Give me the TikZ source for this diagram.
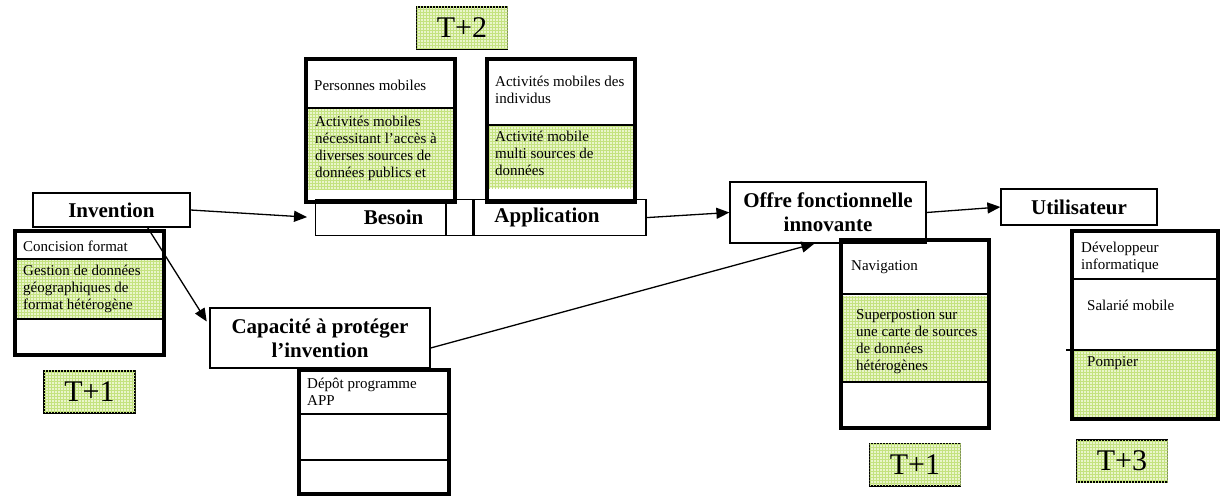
\documentclass[tikz,border=0pt]{standalone}
\usepackage{fontspec}
\setmainfont{Liberation Serif}
\usetikzlibrary{arrows.meta,positioning,calc,patterns}
\definecolor{grnbg}{RGB}{234,245,204}
\definecolor{grnln}{RGB}{196,226,128}
\newcommand\hdrfont{\fontsize{21}{24}\selectfont\bfseries}
\newcommand\cellfont{\fontsize{15}{17}\selectfont}
\newcommand\tagfont{\fontsize{30}{32}\selectfont}
\tikzset{
  hdr/.style={draw,line width=1.2pt,fill=white,font=\hdrfont,align=center,inner sep=0pt},
  colframe/.style={draw,line width=4pt,inner sep=0pt,anchor=north west},
  celltext/.style={anchor=north west,inner sep=0pt,font=\cellfont,align=left},
  grn/.style={fill=grnbg,postaction={pattern=grid,pattern color=grnln}},
  rowline/.style={line width=1.5pt},
  tagbox/.style={draw,line width=1.5pt,grn,font=\tagfont,inner sep=0pt,minimum height=42,minimum width=91}
}
\begin{document}
\begin{tikzpicture}[x=1pt,y=-1pt,>={Triangle[length=13pt,width=11pt]}]
\useasboundingbox (0,0) rectangle (1220,495);

% header boxes
\node[hdr,minimum width=157,minimum height=34] (invention) at (111.5,210) {Invention};
\node[hdr,minimum width=130,minimum height=36,anchor=north west] (besoin) at (315,199) {\hspace*{26pt}Besoin};
\node[hdr,minimum width=26,minimum height=36,right=0pt of besoin] (gap) {};
\node[hdr,minimum width=172,minimum height=36,right=0pt of gap] (appli) {Application\hspace*{26pt}};
\node[hdr,minimum width=196,minimum height=61] (offre) at (828,212.5) {Offre fonctionnelle\\innovante};
\node[hdr,minimum width=220,minimum height=60] (capacite) at (320,338) {Capacité à protéger\\l’invention};
\node[hdr,minimum width=156,minimum height=36] (util) at (1079,207) {Utilisateur};

% invention
\fill[grn] (13,259) rectangle (162,319);
\draw[rowline] (13,259) -- (162,259) (13,319) -- (162,319);
\node[celltext] (concision) at (23,241) {Concision format};
\node[celltext] (gestion) at (23,265) {Gestion de données\\géographiques de\\format hétérogène};
\node[colframe,minimum width=149,minimum height=124] (invcol) at (13,229) {};
\node[tagbox,below=13pt of invcol] (tinv) {T+1};

% besoin
\fill[grn] (304,108) rectangle (453,189);
\draw[rowline] (304,108) -- (453,108);
\node[celltext] (personnes) at (314,80) {Personnes mobiles};
\node[celltext] (actbes) at (315,116) {Activités mobiles\\nécessitant l’accès à\\diverses sources de\\données publics et};
\node[colframe,minimum width=149,minimum height=143] (bescol) at (304,57) {};

% application
\fill[grn] (485,125) rectangle (633,188);
\draw[rowline] (485,125) -- (633,125);
\node[celltext] (actind) at (495,76) {Activités mobiles des\\individus};
\node[celltext] (actapp) at (495,131) {Activité mobile\\multi sources de\\données};
\node[colframe,minimum width=148,minimum height=143] (appcol) at (485,57) {};
\node[tagbox] (tbes) at (462,28) {T+2};

% protection
\draw[rowline] (297,414) -- (447,414) (297,460) -- (447,460);
\node[celltext] (depot) at (307,378) {Dépôt programme\\APP};
\node[colframe,minimum width=150,minimum height=124] (capcol) at (297,368) {};

% offre
\fill[grn] (839,296) rectangle (987,382);
\draw[rowline] (839,294) -- (987,294) (839,382) -- (987,382);
\node[celltext] (navig) at (851,260) {Navigation};
\node[celltext] (superpos) at (856,309) {Superpostion sur\\une carte de sources\\de données\\hétérogènes};
\node[colframe,minimum width=148,minimum height=188] (offcol) at (839,238) {};
\node[tagbox,below=13pt of offcol] (toff) {T+1};

% utilisateur
\fill[grn] (1070,350) rectangle (1216,417);
\draw[rowline] (1070,279) -- (1216,279) (1066,350) -- (1216,350);
\node[celltext] (dev) at (1081,242) {Développeur\\informatique};
\node[celltext] (salarie) at (1087,300) {Salarié mobile};
\node[celltext] (pompier) at (1087,356) {Pompier};
\node[colframe,minimum width=146,minimum height=188] (utilcol) at (1070,229) {};
\node[tagbox] (tutil) at (1122,461) {T+3};

% arrows
\draw[->,line width=1.3pt,shorten >=8pt] (invention.east) -- (besoin.west);
\draw[->,line width=1.3pt,shorten >=5pt] ($(invention.south east)+(-43,0)$) -- ($(capacite.north west)!0.3!(capacite.south west)$);
\draw[->,line width=1.3pt] (appli.east) -- (offre.west);
\draw[->,line width=1.3pt] ($(capacite.east)+(0,10)$) -- ($(offre.south west)+(85,0)$);
\draw[->,line width=1.3pt] (offre.east) -- (util.west);
\end{tikzpicture}
\end{document}
